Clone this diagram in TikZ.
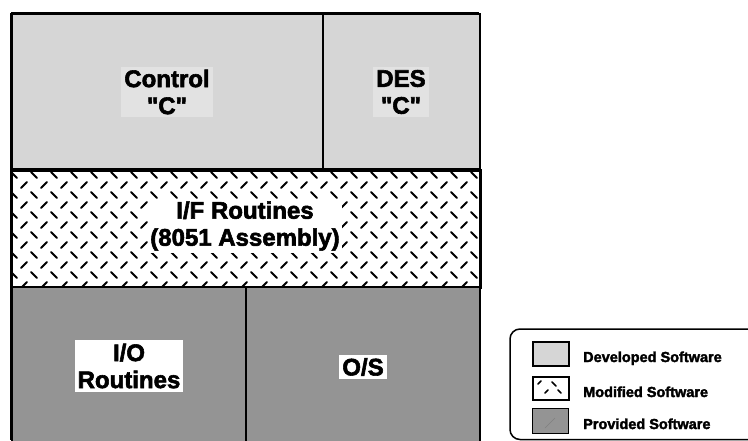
\documentclass[tikz,border=0pt]{standalone}
\usepackage{fontspec}
\setmainfont{Liberation Sans}[BoldFeatures={FakeBold=2.4}]
\definecolor{devcol}{RGB}{214,214,214}
\definecolor{devlight}{RGB}{226,226,226}
\definecolor{provcol}{RGB}{148,148,148}
\newcommand{\qq}{\XeTeXglyph\XeTeXcharglyph"22\relax}
\tikzset{
  block/.style={draw=black, line width=2pt, inner sep=0pt, anchor=north west},
  biglabel/.style={font=\fontsize{24}{27}\selectfont\bfseries, align=center, inner sep=3pt},
  leglabel/.style={font=\fontsize{14.5}{16}\selectfont\bfseries, anchor=base west, inner sep=0pt},
  swatch/.style={draw=black, inner sep=0pt, minimum width=36pt, anchor=north west},
  hatch/.style={line width=1.9pt, line cap=round}
}
\begin{document}
\begin{tikzpicture}[x=1pt,y=-1pt]
\useasboundingbox (0,0) rectangle (748,440);
\begin{scope}
\clip (0,0) rectangle (748,440);
% blocks
\node[block, fill=devcol, minimum width=311pt, minimum height=155pt] (control) at (11,13) {};
\node[block, fill=devcol, minimum width=157pt, minimum height=155pt] (des) at (322,13) {};
\node[block, fill=white, minimum width=468pt, minimum height=116pt] (if) at (11,170) {};
% modified pattern
\begin{scope}
\clip (12,171) rectangle (478,285);
\foreach \r in {0,...,12}{
  \pgfmathsetmacro{\yy}{175+10*\r}
  \pgfmathtruncatemacro{\odd}{mod(\r,2)}
  \foreach \c in {0,...,24}{
    \ifnum\odd=0
      \pgfmathsetmacro{\xx}{14+20*\c}
      \draw[hatch] (\xx-3,\yy-3) -- (\xx+3,\yy+3);
    \else
      \pgfmathsetmacro{\xx}{24+20*\c}
      \draw[hatch] (\xx-3,\yy+3) -- (\xx+3,\yy-3);
    \fi
  }
}
\end{scope}
\draw[line width=2pt] (if.north west) rectangle (if.south east);
\node[block, fill=provcol, minimum width=234pt, minimum height=170pt] (io) at (11,286) {};
\node[block, fill=provcol, minimum width=234pt, minimum height=170pt] (os) at (245,286) {};
\draw[line width=3pt] (11,13) -- (479,13);
\draw[line width=3pt] (11,13) -- (11,440);
% legend box
\draw[line width=1.5pt, rounded corners=10pt] (760,329) -- (510,329) -- (510,439.5) -- (760,439.5);
\end{scope}
% labels
\node[biglabel, fill=devlight] (lcontrol) at (167,92) {Control\\\qq C\qq};
\node[biglabel, fill=devlight] (ldes) at (401,92) {DES\\\qq C\qq};
\node[biglabel, fill=white, inner sep=2pt] (lif) at (245,226) {I/F Routines\\(8051 Assembly)};
\node[biglabel, fill=white, inner xsep=3pt, inner ysep=4pt] (lio) at (129,366) {I/O\\Routines};
\node[biglabel, fill=white, inner sep=3pt] (los) at (363,367) {O/S};
% legend swatches
\node[swatch, fill=devcol, line width=2pt, minimum height=24pt] (sdev) at (532,341) {};
\node[swatch, fill=white, line width=2pt, minimum height=23pt] (smod) at (532,376) {};
\draw[hatch, line width=1.6pt] (538,384) -- (541,381);
\draw[hatch, line width=1.6pt] (552,382) -- (556,386);
\draw[hatch, line width=1.6pt] (545,393) -- (548,390);
\draw[hatch, line width=1.6pt] (558,390) -- (561,393);
\node[swatch, fill=provcol, line width=1pt, minimum height=25pt] (sprov) at (532,408) {};
\draw[line width=0.6pt, gray] (545,428) -- (555,418);
\node[leglabel] (tdev) at (583,362) {Developed Software};
\node[leglabel] (tmod) at (583,397) {Modified Software};
\node[leglabel] (tprov) at (583,429) {Provided Software};
\end{tikzpicture}
\end{document}
